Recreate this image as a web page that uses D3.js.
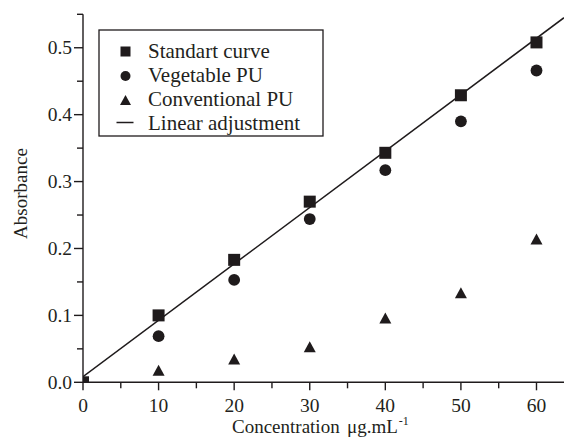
<!DOCTYPE html>
<html><head><meta charset="utf-8">
<script src="https://cdn.jsdelivr.net/npm/d3@7"></script>
<style>
html,body{margin:0;padding:0;background:#fff;}
svg{display:block;}
text{font-family:"Liberation Serif","Times New Roman",serif;fill:#231f20;}
</style></head>
<body>
<script>
const concentrations = [0, 10, 20, 30, 40, 50, 60];
const standardCurve = [0, 0.100, 0.183, 0.270, 0.343, 0.429, 0.508];
const vegetableConc = [10, 20, 30, 40, 50, 60];
const vegetablePU = [0.069, 0.153, 0.244, 0.317, 0.390, 0.466];
const conventionalConc = [10, 20, 30, 40, 50, 60];
const conventionalPU = [0.018, 0.035, 0.053, 0.096, 0.134, 0.214];
const fitSlope = 0.00843;
const fitIntercept = 0.0084;
const xTicks = [0, 10, 20, 30, 40, 50, 60];
const xMinorTicks = [5, 15, 25, 35, 45, 55];
const yTicks = [0, 0.1, 0.2, 0.3, 0.4, 0.5];
const yMinorTicks = [0.05, 0.15, 0.25, 0.35, 0.45, 0.55];
const legendLabels = ["Standart curve", "Vegetable PU", "Conventional PU", "Linear adjustment"];

const W = 564, H = 440;
const ink = "#1f1b1c";
const svg = d3.select("body").append("svg").attr("width", W).attr("height", H);

const x = d3.scaleLinear().domain([0, 63.64]).range([83, 564]);
const y = d3.scaleLinear().domain([0, 0.55]).range([382.3, 14.3]);

svg.append("clipPath").attr("id", "plot").append("rect")
  .attr("x", x(0)).attr("y", 0).attr("width", W - x(0)).attr("height", y(0));

const g = svg.append("g").attr("clip-path", "url(#plot)");

const xDom = x.domain();
g.append("line")
  .attr("x1", x(xDom[0])).attr("y1", y(fitIntercept + fitSlope * xDom[0]))
  .attr("x2", x(xDom[1])).attr("y2", y(fitIntercept + fitSlope * xDom[1]))
  .attr("stroke", ink).attr("stroke-width", 1.5);

const sq = 12;
g.selectAll("rect.sq").data(concentrations.map((c, i) => [c, standardCurve[i]]))
  .enter().append("rect").attr("class", "sq")
  .attr("x", d => x(d[0]) - sq / 2).attr("y", d => y(d[1]) - sq / 2)
  .attr("width", sq).attr("height", sq).attr("fill", ink);

g.selectAll("circle.veg").data(vegetableConc.map((c, i) => [c, vegetablePU[i]]))
  .enter().append("circle").attr("class", "veg")
  .attr("cx", d => x(d[0])).attr("cy", d => y(d[1])).attr("r", 5.9).attr("fill", ink);

function tri(w, h) { return `M0,${-h/2}L${w/2},${h/2}L${-w/2},${h/2}Z`; }
g.selectAll("path.conv").data(conventionalConc.map((c, i) => [c, conventionalPU[i]]))
  .enter().append("path").attr("class", "conv")
  .attr("d", tri(12, 11))
  .attr("transform", d => `translate(${x(d[0])},${y(d[1])})`).attr("fill", ink);

const axisW = 1.4;
const xAxis = svg.append("g");
xAxis.append("line").attr("x1", x(0)).attr("x2", W).attr("y1", y(0)).attr("y2", y(0))
  .attr("stroke", ink).attr("stroke-width", axisW);
xAxis.selectAll("line.maj").data(xTicks).enter().append("line")
  .attr("x1", d => x(d)).attr("x2", d => x(d)).attr("y1", y(0)).attr("y2", y(0) + 8)
  .attr("stroke", ink).attr("stroke-width", axisW);
xAxis.selectAll("line.min").data(xMinorTicks).enter().append("line")
  .attr("x1", d => x(d)).attr("x2", d => x(d)).attr("y1", y(0)).attr("y2", y(0) + 6)
  .attr("stroke", ink).attr("stroke-width", axisW);
xAxis.selectAll("text").data(xTicks).enter().append("text")
  .attr("x", d => x(d)).attr("y", 411.5).attr("text-anchor", "middle")
  .attr("font-size", 19.5).text(d => d);

const yAxis = svg.append("g");
yAxis.append("line").attr("x1", x(0)).attr("x2", x(0)).attr("y1", y(0)).attr("y2", y(0.55))
  .attr("stroke", ink).attr("stroke-width", axisW);
yAxis.selectAll("line.maj").data(yTicks).enter().append("line")
  .attr("x1", x(0) - 9).attr("x2", x(0)).attr("y1", d => y(d)).attr("y2", d => y(d))
  .attr("stroke", ink).attr("stroke-width", axisW);
yAxis.selectAll("line.min").data(yMinorTicks).enter().append("line")
  .attr("x1", x(0) - 6).attr("x2", x(0)).attr("y1", d => y(d)).attr("y2", d => y(d))
  .attr("stroke", ink).attr("stroke-width", axisW);
yAxis.selectAll("text").data(yTicks).enter().append("text")
  .attr("x", 72).attr("y", d => y(d) + 6.5).attr("text-anchor", "end")
  .attr("font-size", 19.5).text(d => d3.format(".1f")(d));

const xt = svg.append("text").attr("x", 232).attr("y", 433).attr("font-size", 19);
xt.append("tspan").text("Concentration");
xt.append("tspan").attr("x", 347).text("μg.mL");
xt.append("tspan").attr("font-size", 12).attr("dy", -8).attr("dx", 1).text("-1");

svg.append("text").attr("transform", "translate(27,193.5) rotate(-90)")
  .attr("text-anchor", "middle").attr("font-size", 19).text("Absorbance");

const lg = svg.append("g");
lg.append("rect").attr("x", 99).attr("y", 30).attr("width", 224).attr("height", 106)
  .attr("fill", "#fff").attr("stroke", ink).attr("stroke-width", 1.3);
const base = [57.5, 81.5, 106, 129.5];
const sx = 125.5;
legendLabels.forEach((lab, i) => {
  lg.append("text").attr("x", 148).attr("y", base[i]).attr("font-size", 21).text(lab);
});
lg.append("rect").attr("x", sx - 5).attr("y", base[0] - 6 - 5).attr("width", 10).attr("height", 10).attr("fill", ink);
lg.append("circle").attr("cx", sx).attr("cy", base[1] - 5.5).attr("r", 5).attr("fill", ink);
lg.append("path").attr("d", tri(11, 10)).attr("transform", `translate(${sx},${base[2] - 6})`).attr("fill", ink);
lg.append("line").attr("x1", sx - 9).attr("x2", sx + 8).attr("y1", base[3] - 7).attr("y2", base[3] - 7)
  .attr("stroke", ink).attr("stroke-width", 1.5);
</script>
</body></html>
